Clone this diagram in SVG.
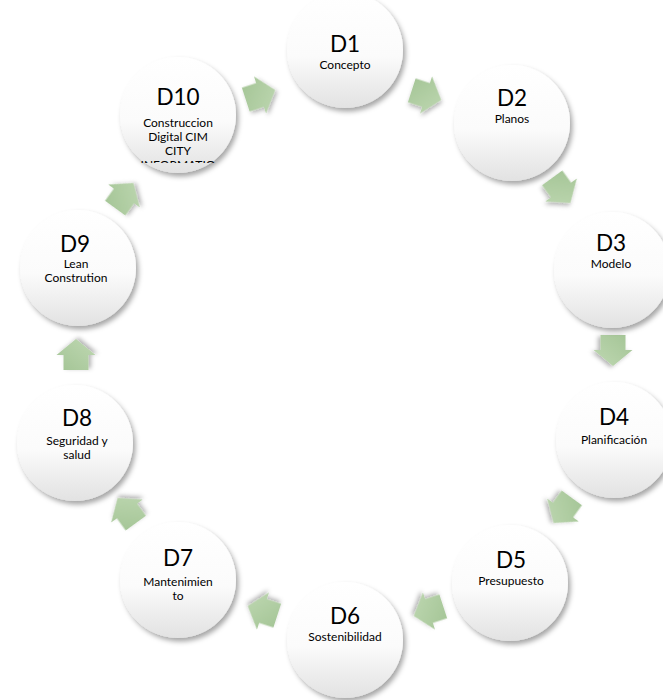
<svg xmlns="http://www.w3.org/2000/svg" width="663" height="700" viewBox="0 0 663 700">
<defs>
<linearGradient id="cg" x1="0" y1="0" x2="0" y2="1">
<stop offset="0" stop-color="#ffffff"/>
<stop offset="0.55" stop-color="#fbfbfb"/>
<stop offset="1" stop-color="#e2e2e2"/>
</linearGradient>
<linearGradient id="ag" x1="0" y1="0" x2="1" y2="1">
<stop offset="0" stop-color="#a3c495"/>
<stop offset="1" stop-color="#bfd8b2"/>
</linearGradient>
<filter id="sh" x="-30%" y="-30%" width="160%" height="160%">
<feDropShadow dx="2.5" dy="3.5" stdDeviation="2.5" flood-color="#000" flood-opacity="0.35"/>
</filter>
<filter id="ash" x="-50%" y="-50%" width="200%" height="200%">
<feDropShadow dx="1.5" dy="2.5" stdDeviation="2" flood-color="#000" flood-opacity="0.3"/>
</filter>
<polygon id="arr" points="-15,-12.5 0,-12.5 0,-19.5 16,0 0,19.5 0,12.5 -15,12.5"/>
<clipPath id="clip10"><rect x="100" y="0" width="160" height="163"/></clipPath>
</defs>
<style>
.c{fill:url(#cg);filter:url(#sh)}
.a{fill:url(#ag);filter:url(#ash)}
.h{font-family:Lato,"Liberation Sans",sans-serif;font-size:22.5px;fill:#000;text-anchor:middle}
.l{font-family:Lato,"Liberation Sans",sans-serif;font-size:12px;fill:#000;text-anchor:middle}
</style>
<g id="connectors">
<use href="#arr" class="a" transform="translate(426,95) rotate(18)"/>
<use href="#arr" class="a" transform="translate(561,190) rotate(54)"/>
<use href="#arr" class="a" transform="translate(613,350) rotate(90)"/>
<use href="#arr" class="a" transform="translate(563,510) rotate(126)"/>
<use href="#arr" class="a" transform="translate(429,611) rotate(162)"/>
<use href="#arr" class="a" transform="translate(263,611) rotate(198)"/>
<use href="#arr" class="a" transform="translate(127,511) rotate(234)"/>
<use href="#arr" class="a" transform="translate(76,355) rotate(270)"/>
<use href="#arr" class="a" transform="translate(124,196) rotate(306)"/>
<use href="#arr" class="a" transform="translate(260,95) rotate(342)"/>
</g>
<g id="D1"><circle class="c" cx="345" cy="50" r="58"/><text class="h" x="345" y="52">D1</text><text class="l" x="345" y="69">Concepto</text></g>
<g id="D2"><circle class="c" cx="512" cy="123" r="58"/><text class="h" x="512" y="106">D2</text><text class="l" x="512" y="123">Planos</text></g>
<g id="D3"><circle class="c" cx="612" cy="270" r="58"/><text class="h" x="611" y="251">D3</text><text class="l" x="611" y="268">Modelo</text></g>
<g id="D4"><circle class="c" cx="614" cy="440" r="58"/><text class="h" x="614" y="425">D4</text><text class="l" x="614" y="444">Planificación</text></g>
<g id="D5"><circle class="c" cx="510" cy="583" r="58"/><text class="h" x="511" y="568">D5</text><text class="l" x="511" y="585">Presupuesto</text></g>
<g id="D6"><circle class="c" cx="345" cy="640" r="58"/><text class="h" x="345" y="624">D6</text><text class="l" x="345" y="641">Sostenibilidad</text></g>
<g id="D7"><circle class="c" cx="178" cy="580" r="58"/><text class="h" x="178" y="566">D7</text><text class="l" x="178" y="586">Mantenimien</text><text class="l" x="178" y="600">to</text></g>
<g id="D8"><circle class="c" cx="75" cy="443" r="58"/><text class="h" x="77" y="426">D8</text><text class="l" x="77" y="445">Seguridad y</text><text class="l" x="77" y="459">salud</text></g>
<g id="D9"><circle class="c" cx="78" cy="268" r="58"/><text class="h" x="75" y="252">D9</text><text class="l" x="76" y="268">Lean</text><text class="l" x="76" y="282">Constrution</text></g>
<g id="D10"><circle class="c" cx="178" cy="115" r="58"/><text class="h" x="178" y="105">D10</text><text class="l" x="178" y="127">Construccion</text><text class="l" x="178" y="141">Digital CIM</text><text class="l" x="178" y="155">CITY</text><text class="l" x="178" y="169" clip-path="url(#clip10)">INFORMATIO</text></g>
</svg>
